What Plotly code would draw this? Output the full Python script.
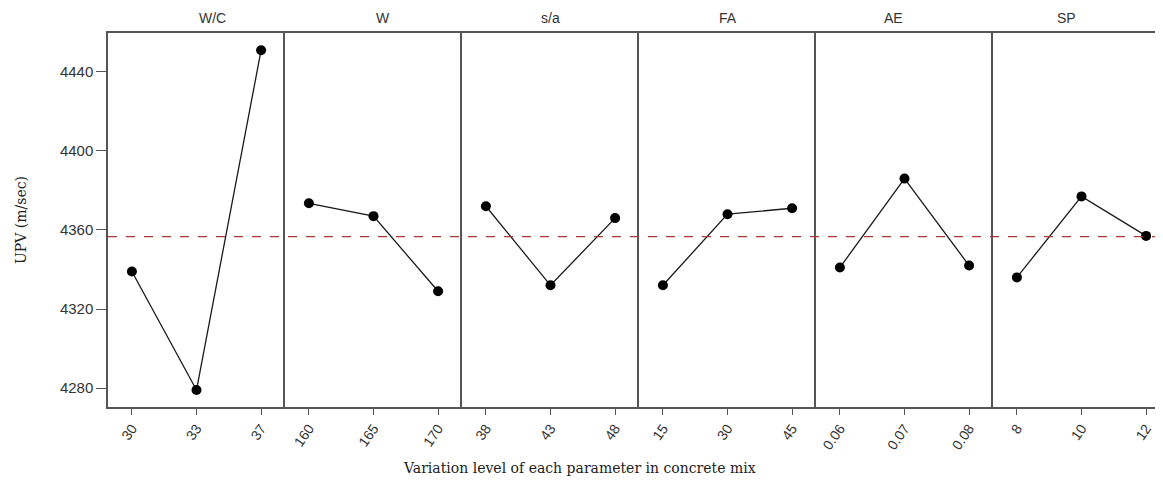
import plotly.graph_objects as go

# ---- data ----
params = ["W/C", "W", "s/a", "FA", "AE", "SP"]
levels = [
    ["30", "33", "37"],
    ["160", "165", "170"],
    ["38", "43", "48"],
    ["15", "30", "45"],
    ["0.06", "0.07", "0.08"],
    ["8", "10", "12"],
]
upv = [
    [4339, 4279, 4451],
    [4373.5, 4367, 4329],
    [4372, 4332, 4366],
    [4332, 4368, 4371],
    [4341, 4386, 4342],
    [4336, 4377, 4357],
]
grand_mean = 4356.6
y_ticks = [4280, 4320, 4360, 4400, 4440]

# ---- layout helpers (page body has an 8px margin) ----
OFF = 8
W, H = 1163 - OFF, 482 - OFF
ML, MR, MT, MB = 108 - OFF, 0, 33 - OFF, 75
plot_w = W - ML - MR
panel_px = 177
edges = [min(i * panel_px / plot_w, 1.0) for i in range(len(params) + 1)]
edges[-1] = 1.0
px_per_unit = panel_px / 2.74

line_col = "#555555"
fig = go.Figure()

for i, (p, lv, vals) in enumerate(zip(params, levels, upv)):
    xa = "x" if i == 0 else f"x{i+1}"
    ya = "y" if i == 0 else f"y{i+1}"
    fig.add_trace(go.Scatter(
        x=lv, y=vals, xaxis=xa, yaxis=ya, mode="lines+markers",
        line=dict(color="#1a1a1a", width=1.3),
        marker=dict(color="black", size=10),
        showlegend=False, hoverinfo="x+y",
    ))
    d0, d1 = edges[i], edges[i + 1]
    width_px = (d1 - d0) * plot_w
    xr = [-0.37, -0.37 + width_px / px_per_unit]
    xkey = "xaxis" if i == 0 else f"xaxis{i+1}"
    ykey = "yaxis" if i == 0 else f"yaxis{i+1}"
    fig.layout[xkey] = dict(
        domain=[d0, d1], anchor=ya, type="category", range=xr,
        showline=True, mirror=True, linecolor=line_col, linewidth=1.5,
        ticks="outside", ticklen=6, tickcolor=line_col, tickangle=-55,
        tickfont=dict(family="Liberation Sans, Arial", size=14, color="#333333"),
        showgrid=False, zeroline=False, fixedrange=True,
    )
    yprops = dict(
        domain=[0, 1], anchor=xa, range=[4270.4, 4459.7],
        showline=True, linecolor=line_col, linewidth=1.5,
        showgrid=False, zeroline=False, fixedrange=True,
    )
    if i == 0:
        yprops.update(
            tickvals=y_ticks, ticks="outside", ticklen=10, tickcolor=line_col,
            tickfont=dict(family="Liberation Sans, Arial", size=15, color="#333333"),
            title=dict(text="UPV (m/sec)", standoff=30,
                       font=dict(family="DejaVu Serif, serif", size=14, color="#222222")),
        )
    else:
        yprops.update(matches="y", showticklabels=False, ticks="")
    fig.layout[ykey] = yprops

    fig.add_annotation(
        text=p, xref="paper", yref="paper", x=(d0 + min(d1, d0 + panel_px / plot_w)) / 2,
        y=1, yshift=15, showarrow=False, yanchor="middle",
        font=dict(family="Liberation Sans, Arial", size=14, color="#333333"),
    )

# grand mean reference line
fig.add_shape(type="line", xref="paper", yref="y", x0=0, x1=1,
              y0=grand_mean, y1=grand_mean,
              line=dict(color="#a83a3a", width=1.2, dash="dash"), layer="above")

fig.add_annotation(
    text="Variation level of each parameter in concrete mix",
    xref="paper", yref="paper", x=(579 - 108) / plot_w, y=0, yshift=-61,
    showarrow=False, xanchor="center", yanchor="middle",
    font=dict(family="DejaVu Serif, serif", size=14, color="#222222"),
)

fig.update_layout(
    width=W, height=H,
    margin=dict(l=ML, r=MR, t=MT, b=MB),
    paper_bgcolor="white", plot_bgcolor="white",
)

fig.write_html("out.html")
